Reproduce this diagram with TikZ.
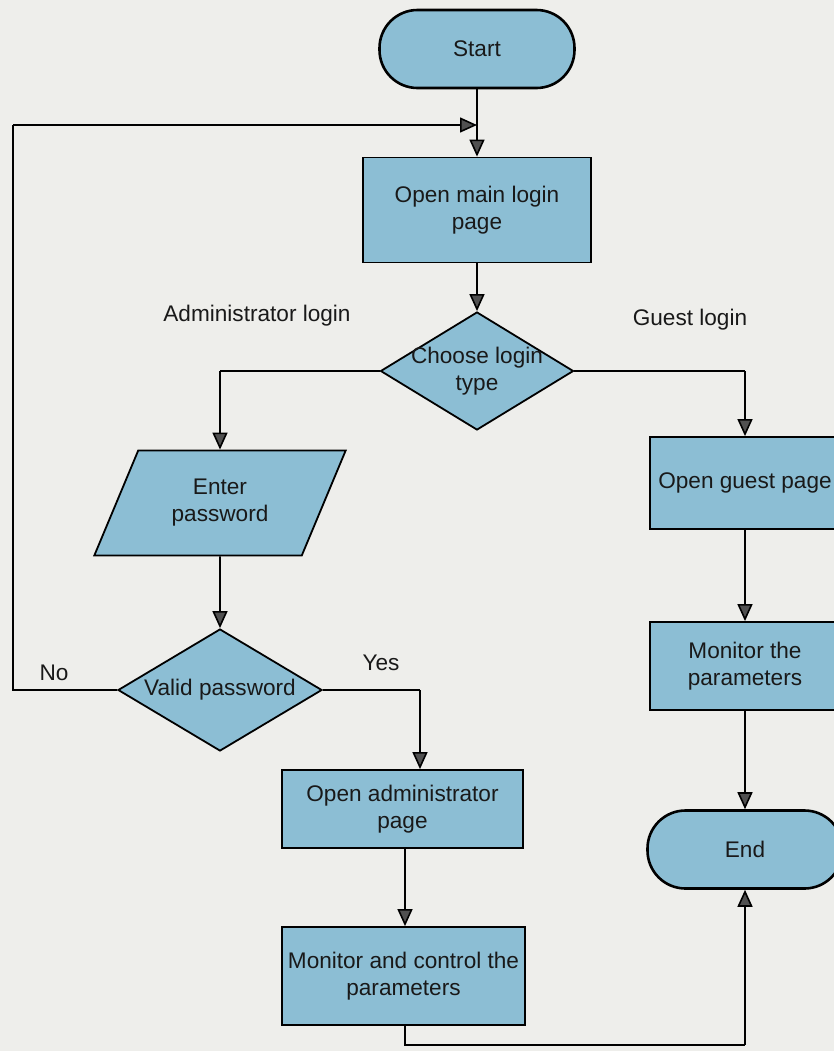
\documentclass[tikz,border=0pt]{standalone}
\usepackage{fontspec}
\setmainfont{Liberation Sans}
\usepackage{xcolor}
\usetikzlibrary{positioning, arrows.meta, shapes.geometric}

\definecolor{boxblue}{RGB}{140,190,212}
\definecolor{paper}{RGB}{238,238,235}
\definecolor{tipgray}{RGB}{80,80,80}

\begin{document}
\begin{tikzpicture}[
    x=0.5pt, y=-0.5pt,
    every node/.style={font=\fontsize{11.3}{13.5}\selectfont, text=black!90},
    process/.style={rectangle, draw, line width=0.9pt, fill=boxblue, align=center, inner sep=2pt},
    terminal/.style={rectangle, draw, line width=1.3pt, fill=boxblue, rounded corners=19pt, minimum width=97.5pt, minimum height=39pt},
    decision/.style={diamond, draw, line width=0.9pt, fill=boxblue, align=center, inner xsep=-10pt, inner ysep=0pt},
    inout/.style={trapezium, trapezium left angle=64, trapezium right angle=116, trapezium stretches=true, draw, line width=0.9pt, fill=boxblue, align=center},
    branch/.style={inner sep=0pt},
    arrow/.style={-{Triangle[length=8.5pt, width=7.5pt, fill=tipgray]}, line width=0.8pt},
    line/.style={line width=0.8pt},
]

% paper background
\fill[paper] (0,0) rectangle (834,1051);
\clip (0,0) rectangle (834,1051);

\node[terminal] (start) at (477,49) {Start};

\node[process, minimum width=114pt, minimum height=52.5pt] (mainlogin) at (477,210) {Open main login\\page};

\node[decision, minimum width=96.5pt, minimum height=59pt, aspect=1.64] (choose) at (477,371) {Choose login\\type};
\node[branch] (adminlbl) at (257,316) {Administrator login};
\node[branch] (guestlbl) at (690,320) {Guest login};

% administrator side
\node[inout, minimum width=126pt, minimum height=52.5pt] (passwd) at (220,503) {Enter\\password};

\node[decision, minimum width=102pt, minimum height=61pt, aspect=1.67] (valid) at (220,690) {Valid password};
\node[branch] (nolbl) at (54,673) {No};
\node[branch] (yeslbl) at (381,663) {Yes};

\node[process, minimum width=120.5pt, minimum height=39pt] (adminpage) at (402.5,809) {Open administrator\\page};
\node[process, minimum width=121.5pt, minimum height=49pt] (control) at (403.5,976) {Monitor and control the\\parameters};

% guest side
\node[process, minimum width=95pt, minimum height=46pt] (guestpage) at (745,483) {Open guest page};
\node[process, minimum width=95pt, minimum height=44pt] (monitor) at (745,666) {Monitor the\\parameters};

\node[terminal] (end) at (745,849.5) {End};

% helper points for the bends
\coordinate (loopin) at (477,125);
\coordinate (loopl) at (13,125);
\coordinate (nol) at (13,690);
\coordinate (yesr) at (420,690);
\coordinate (adml) at (220,371);
\coordinate (gstr) at (745,371);
\coordinate (botl) at (405,1045);
\coordinate (botr) at (745,1045);

\draw[line] (start) -- (loopin);
\draw[arrow] (loopin) -- (mainlogin);
\draw[arrow] (mainlogin) -- (choose);

\draw[line] (choose.west) -- (adml);
\draw[arrow] (adml) -- (passwd);
\draw[line] (choose.east) -- (gstr);
\draw[arrow] (gstr) -- (guestpage);

\draw[arrow] (passwd) -- (valid);
\draw[line] (valid.west) -- (nol) -- (loopl);
\draw[arrow] (loopl) -- (loopin);
\draw[line] (valid.east) -- (yesr);
\draw[arrow] (yesr) -- (yesr |- adminpage.north);

\draw[arrow] (adminpage.south -| botl) -- (control.north -| botl);
\draw[line] (control.south -| botl) -- (botl) -- (botr);
\draw[arrow] (botr) -- (end);

\draw[arrow] (guestpage) -- (monitor);
\draw[arrow] (monitor) -- (end);

\end{tikzpicture}
\end{document}
